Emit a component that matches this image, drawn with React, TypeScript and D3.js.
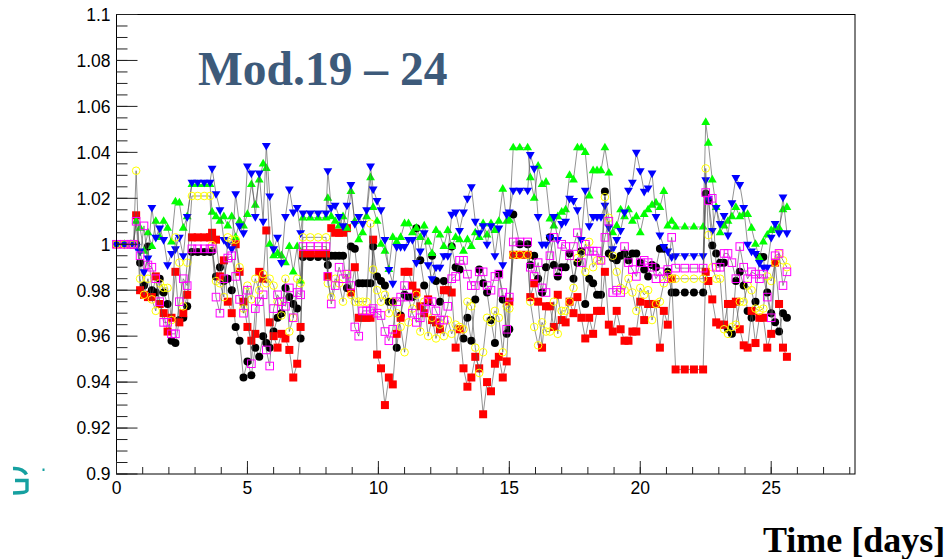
import React from 'react';
import * as d3 from 'd3';

const W = 946;
const H = 559;

// Measurement times (days)
const days = [
  0, 0.3, 0.55, 0.65,
  0.75,
  0.9, 1.05, 1.2, 1.35, 1.5, 1.65, 1.8, 1.95, 2.1, 2.25, 2.4, 2.55, 2.7,
  2.88, 3.1, 3.35, 3.57,
  3.65, 3.8, 3.95, 4.1, 4.25, 4.4, 4.55, 4.7, 4.85, 5.0, 5.15, 5.3, 5.45, 5.6, 5.72, 5.85, 6.0, 6.15, 6.3, 6.45, 6.6, 6.75, 6.9, 7.03,
  7.12, 7.4, 7.7, 8.0,
  8.07, 8.2, 8.35, 8.5, 8.65, 8.8, 8.95, 9.1, 9.25, 9.4, 9.55, 9.7, 9.8, 9.95, 10.1, 10.25, 10.4, 10.55, 10.7, 10.85, 11.0, 11.15, 11.3, 11.45, 11.6, 11.75, 11.9, 12.05, 12.2, 12.35, 12.5, 12.65, 12.8, 12.95, 13.1, 13.25, 13.4, 13.55, 13.7, 13.85, 14.0, 14.15, 14.3, 14.45, 14.6, 14.75, 14.9,
  15.0, 15.15, 15.4, 15.7,
  15.8, 15.95, 16.1, 16.25, 16.4, 16.55, 16.7, 16.85, 17.0, 17.15, 17.3, 17.45, 17.6, 17.75, 17.9, 18.05, 18.2, 18.35, 18.5, 18.65, 18.8, 18.95, 19.1, 19.25, 19.4, 19.55, 19.7, 19.85, 20.0, 20.15, 20.3, 20.45, 20.6, 20.75, 20.9, 21.05, 21.2,
  21.35, 21.7, 22.05, 22.4,
  22.5, 22.6, 22.75, 22.9, 23.05, 23.2, 23.35, 23.5, 23.65, 23.8, 23.95, 24.1, 24.25, 24.4, 24.55, 24.7, 24.85, 25.0, 25.15, 25.3, 25.45, 25.6,
];

// Module 19
const mod19 = [
  1, 1, 1, 1,
  1.0,
  0.992, 0.982, 0.999, 0.980, 0.979, 0.985, 0.979, 0.974, 0.958, 0.957, 0.967, 0.968, 0.973,
  0.9966, 0.9966, 0.9966, 0.9966,
  0.997, 0.986, 0.990, 0.984, 0.985, 0.980, 0.964, 0.958, 0.942, 0.949, 0.943, 0.955, 0.951, 0.960, 0.957, 0.955, 0.962, 0.968, 0.970, 0.981, 0.977, 0.974, 0.972, 0.959,
  0.9945, 0.9945, 0.9945, 0.9945,
  0.991, 0.995, 0.995, 0.995, 0.995, 0.981, 0.999, 0.998, 0.983, 0.983, 0.983, 0.983, 0.999, 0.986, 0.984, 0.982, 0.975, 0.975, 0.955, 0.969, 0.978, 0.977, 0.977, 1.007, 0.993, 0.982, 0.975, 0.995, 0.984, 0.975, 0.984, 0.980, 0.999, 0.990, 0.989, 0.959, 0.968, 0.958, 0.976, 0.989, 0.983, 0.979, 0.967, 0.957, 0.987, 0.976, 0.961,
  0.963, 1.013, 1.0, 1.0,
  0.991, 0.995, 0.985, 0.979, 0.990, 1.003, 0.991, 0.986, 0.990, 0.990, 0.996, 0.985, 0.992, 0.997, 0.974, 0.985, 0.983, 0.978, 0.978, 1.023, 0.996, 0.994, 0.993, 0.995, 0.996, 0.993, 0.996, 0.996, 0.992, 0.989, 0.986, 0.991, 0.990, 0.998, 0.998, 0.988, 0.979,
  0.979, 0.979, 0.979, 0.979,
  1.022, 1.019, 0.9995, 0.996, 0.992, 0.992, 0.963, 0.961, 0.984, 0.988, 0.982, 0.971, 0.968, 0.975, 0.9945, 0.9945, 0.979, 0.970, 0.966, 0.962, 0.970, 0.968,
];

// Module 20
const mod20 = [
  1, 1, 1, 1,
  1.0126,
  0.980, 0.978, 0.977, 0.977, 0.986, 0.974, 0.970, 0.962, 0.968, 0.988, 0.966, 0.970, 0.978,
  1.003, 1.003, 1.003, 1.003,
  1.005, 1.002, 0.986, 0.993, 0.975, 0.970, 1.000, 0.988, 0.975, 0.964, 0.958, 0.961, 0.988, 0.985, 1.006, 0.966, 0.960, 0.955, 0.961, 0.959, 0.954, 0.942, 0.948, 0.964,
  0.996, 0.996, 0.996, 0.996,
  0.986, 1.007, 1.005, 1.005, 1.005, 1.007, 0.979, 0.990, 0.968, 0.968, 0.968, 0.968, 1.002, 0.952, 0.946, 0.930, 0.942, 0.939, 0.961, 0.968, 0.988, 0.988, 0.982, 0.979, 0.973, 0.970, 0.976, 0.967, 0.966, 0.963, 0.980, 0.980, 0.979, 0.955, 0.963, 0.946, 0.938, 0.942, 0.951, 0.946, 0.926, 0.940, 0.936, 0.948, 0.951, 0.942, 0.949,
  0.975, 0.9954, 0.9954, 0.9954,
  0.977, 0.983, 0.975, 0.955, 0.973, 0.973, 0.964, 0.978, 0.967, 0.966, 0.975, 0.970, 0.977, 0.968, 0.959, 0.968, 0.961, 0.971, 0.971, 0.988, 0.965, 0.962, 0.971, 0.963, 0.958, 0.958, 0.962, 0.962, 0.975, 0.967, 0.974, 0.974, 0.974, 0.955, 0.971, 0.965, 0.985,
  0.9455, 0.9455, 0.9455, 0.9455,
  0.988, 0.984, 0.976, 0.966, 0.965, 0.965, 0.974, 0.974, 0.975, 0.963, 0.956, 0.955, 0.971, 0.957, 0.968, 0.968, 0.955, 0.961, 0.992, 0.974, 0.955, 0.951,
];

// Module 21
const mod21 = [
  1, 1, 1, 1,
  1.010,
  1.007, 0.997, 1.005, 0.999, 1.010, 1.003, 1.010, 1.007, 1.001, 1.0185, 1.018, 1.007, 1.012,
  1.026, 1.026, 1.026, 1.026,
  1.014, 1.012, 1.010, 1.012, 1.008, 1.012, 1.003, 1.010, 1.008, 1.013, 1.026, 1.017, 1.028, 1.035, 1.033, 1.000, 0.995, 0.996, 0.995, 0.992, 0.999, 0.988, 0.999, 0.984,
  1.0115, 1.0115, 1.0115, 1.0115,
  1.020, 1.012, 1.010, 1.008, 1.012, 1.007, 1.023, 1.010, 1.002, 1.005, 1.012, 1.029, 1.016, 1.010, 1.000, 0.997, 0.989, 1.003, 1.001, 1.003, 1.009, 1.009, 1.005, 1.007, 1.003, 1.008, 1.001, 0.996, 1.006, 1.004, 0.999, 1.006, 0.999, 1.003, 1.002, 0.997, 1.002, 0.999, 1.005, 1.003, 1.009, 1.004, 1.009, 1.006, 1.010, 1.024, 1.010,
  1.0105, 1.042, 1.042, 1.042,
  1.029, 1.020, 1.034, 1.026, 1.027, 1.011, 1.008, 1.012, 1.014, 1.015, 1.030, 1.028, 1.042, 1.042, 1.040, 1.021, 1.032, 1.032, 1.032, 1.042, 1.031, 1.005, 1.008, 1.015, 1.012, 1.015, 1.010, 1.012, 1.005, 1.013, 1.015, 1.017, 1.018, 1.016, 1.023, 1.008, 1.010,
  1.0075, 1.0075, 1.0075, 1.0075,
  1.053, 1.044, 1.028, 1.016, 1.005, 1.008, 1.010, 1.012, 1.016, 1.012, 1.013, 1.013, 1.007, 1.000, 0.994, 1.001, 1.004, 1.006, 1.007, 1.007, 1.015, 1.016,
];

// Module 22
const mod22 = [
  1, 1, 1, 1,
  0.999,
  0.997, 0.988, 0.994, 1.016, 1.003, 1.007, 1.002, 0.991, 0.996, 0.998, 1.003, 0.995, 1.012,
  1.027, 1.027, 1.027, 1.027,
  1.033, 1.022, 1.015, 1.002, 1.000, 0.998, 1.022, 1.008, 1.005, 1.034, 1.031, 1.012, 1.031, 1.010, 1.043, 1.021, 0.998, 1.003, 0.992, 1.012, 1.024, 1.014, 1.016, 1.005,
  1.0136, 1.0136, 1.0136, 1.0136,
  1.032, 1.016, 1.017, 1.012, 1.008, 1.017, 1.026, 1.009, 1.012, 1.009, 1.015, 1.034, 1.024, 1.019, 1.015, 1.002, 0.989, 0.983, 0.999, 0.999, 0.999, 1.002, 1.002, 0.992, 0.997, 1.005, 0.991, 0.985, 0.990, 0.990, 0.995, 0.995, 1.013, 1.014, 1.006, 1.014, 1.020, 1.025, 1.010, 1.005, 1.008, 1.000, 1.008, 0.995, 1.007, 0.991, 1.013,
  1.014, 1.0235, 1.0235, 1.0235,
  1.039, 1.033, 1.012, 1.000, 1.000, 1.003, 1.012, 1.002, 1.009, 1.010, 1.020, 1.019, 1.015, 1.002, 1.0235, 1.008, 1.012, 1.012, 1.012, 1.017, 1.0075, 0.998, 1.002, 1.006, 1.014, 1.0235, 1.027, 1.040, 1.032, 1.023, 1.0245, 1.031, 1.012, 1.004, 0.999, 0.997, 0.9945,
  0.995, 0.995, 0.995, 0.995,
  1.028, 1.020, 1.006, 1.016, 1.009, 1.0125, 1.004, 1.018, 1.029, 1.026, 1.016, 1.000, 0.997, 0.996, 0.992, 0.990, 0.990, 1.003, 1.009, 1.005, 1.0205, 1.005,
];

// Module 23
const mod23 = [
  1, 1, 1, 1,
  1.032,
  0.985, 0.978, 0.985, 0.976, 0.971, 0.983, 0.981, 0.981, 0.967, 1.003, 0.992, 0.973, 0.992,
  1.021, 1.021, 1.021, 1.021,
  0.9996, 0.984, 0.983, 0.977, 1.003, 1.002, 1.002, 0.990, 0.972, 0.982, 0.976, 0.985, 0.980, 0.987, 0.983, 0.985, 0.982, 0.975, 0.969, 0.985, 0.962, 0.968, 0.985, 0.983,
  1.003, 1.003, 1.003, 1.003,
  0.983, 0.977, 0.985, 0.983, 0.975, 0.987, 0.978, 0.975, 0.975, 0.975, 0.975, 1.009, 0.989, 0.980, 0.975, 0.978, 0.970, 0.975, 0.970, 0.964, 0.953, 0.966, 0.972, 0.978, 0.962, 0.975, 0.960, 0.968, 0.959, 0.965, 0.960, 0.967, 0.961, 0.965, 0.964, 0.963, 0.975, 0.973, 0.955, 0.944, 0.953, 0.968, 0.966, 0.971, 0.968, 0.953, 0.973,
  0.972, 0.9954, 0.9954, 0.9954,
  0.975, 0.964, 0.956, 0.966, 0.962, 0.962, 0.975, 0.961, 0.971, 0.971, 0.975, 0.981, 0.994, 0.996, 0.988, 1.001, 0.990, 0.993, 0.993, 1.0205, 1.0115, 0.995, 0.988, 0.981, 0.980, 0.985, 0.979, 0.971, 0.981, 0.978, 0.980, 0.967, 0.974, 0.975, 0.983, 0.987, 0.985,
  0.985, 0.985, 0.985, 0.985,
  1.033, 1.004, 0.990, 0.985, 0.985, 0.963, 0.961, 0.964, 0.965, 0.975, 0.975, 0.982, 0.980, 0.972, 0.971, 0.972, 0.986, 0.984, 0.992, 0.996, 0.993, 0.990,
];

// Module 24
const mod24 = [
  1, 1, 1, 1,
  1.010,
  0.995, 1.008, 0.991, 0.990, 0.985, 0.975, 0.966, 0.966, 0.961, 0.961, 0.975, 0.985, 0.982,
  0.998, 0.998, 0.998, 0.998,
  0.998, 0.977, 0.970, 0.985, 0.994, 0.995, 0.986, 0.976, 0.970, 0.980, 0.948, 0.972, 0.975, 0.978, 0.954, 0.947, 0.972, 0.978, 0.975, 0.973, 0.981, 0.968, 0.979, 0.978,
  0.999, 0.999, 0.999, 0.999,
  0.986, 0.974, 0.982, 0.990, 0.985, 0.987, 0.982, 0.964, 0.960, 0.971, 0.971, 0.971, 0.972, 0.970, 0.969, 0.962, 0.958, 0.963, 0.975, 0.977, 0.982, 0.977, 0.970, 0.966, 0.968, 0.972, 0.975, 0.975, 0.971, 0.967, 0.967, 0.973, 0.985, 0.986, 0.993, 0.993, 0.987, 0.982, 0.982, 0.988, 0.988, 0.982, 0.980, 0.986, 0.987, 0.979, 0.963,
  0.977, 1.001, 1.001, 1.001,
  0.990, 0.986, 0.992, 0.981, 0.979, 0.995, 1.003, 0.988, 1.000, 0.999, 0.995, 0.999, 1.005, 0.992, 1.000, 0.997, 0.997, 0.997, 0.993, 1.003, 1.010, 0.979, 0.980, 0.979, 0.999, 0.992, 0.989, 0.986, 0.992, 0.993, 0.992, 0.990, 0.985, 0.988, 0.985, 0.989, 1.003,
  0.9896, 0.9896, 0.9896, 0.9896,
  1.0225, 1.019, 1.020, 0.990, 0.990, 0.996, 0.996, 0.992, 0.985, 0.999, 0.990, 0.985, 0.988, 0.987, 0.985, 0.987, 0.977, 0.968, 0.995, 0.996, 0.982, 0.988,
];

const yMajorTicks = [0.9, 0.92, 0.94, 0.96, 0.98, 1.0, 1.02, 1.04, 1.06, 1.08, 1.1];
const yTickLabels = ['0.9', '0.92', '0.94', '0.96', '0.98', '1', '1.02', '1.04', '1.06', '1.08', '1.1'];
const xMajorTicks = [0, 5, 10, 15, 20, 25];
const xTickLabels = ['0', '5', '10', '15', '20', '25'];

type Marker = 'circle' | 'square' | 'triUp' | 'triDown' | 'openCircle' | 'openSquare';

const series: { values: number[]; marker: Marker; color: string }[] = [
  { values: mod19, marker: 'circle', color: '#000000' },
  { values: mod20, marker: 'square', color: '#ff0000' },
  { values: mod21, marker: 'triUp', color: '#00ff00' },
  { values: mod22, marker: 'triDown', color: '#0000ff' },
  { values: mod23, marker: 'openCircle', color: '#ffff00' },
  { values: mod24, marker: 'openSquare', color: '#ff00ff' },
];

const FRAME = { left: 116.5, right: 855, top: 14.5, bottom: 474 };

export default function App() {
  const x = d3.scaleLinear().domain([0, 28.2]).range([FRAME.left, FRAME.right]);
  const y = d3.scaleLinear().domain([0.9, 1.1]).range([FRAME.bottom, FRAME.top]);

  const xMinor = d3.range(0, 29, 1);
  const yMinor = d3.range(0, 41).map((i) => 0.9 + i * 0.005);

  const tri = d3.symbol().type(d3.symbolTriangle).size(34)() as string;

  const drawMarker = (m: Marker, color: string, cx: number, cy: number, key: number) => {
    switch (m) {
      case 'circle':
        return <circle key={key} cx={cx} cy={cy} r={4} fill={color} />;
      case 'square':
        return <rect key={key} x={cx - 4} y={cy - 4} width={8} height={8} fill={color} />;
      case 'triUp':
        return <path key={key} d={tri} transform={`translate(${cx},${cy})`} fill={color} />;
      case 'triDown':
        return <path key={key} d={tri} transform={`translate(${cx},${cy}) rotate(180)`} fill={color} />;
      case 'openCircle':
        return <circle key={key} cx={cx} cy={cy} r={3.8} fill="none" stroke={color} strokeWidth={1} />;
      case 'openSquare':
        return (
          <rect key={key} x={cx - 3.8} y={cy - 3.8} width={7.6} height={7.6} fill="none" stroke={color} strokeWidth={1} />
        );
    }
  };

  const fontSans = 'Liberation Sans, Arial, Helvetica, sans-serif';
  const fontSerif = 'Liberation Serif, Times New Roman, serif';

  return (
    <svg
      width={W}
      height={H}
      viewBox={`0 0 ${W} ${H}`}
      style={{ position: 'absolute', left: 0, top: 0, background: '#ffffff' }}
    >
      <rect x={0} y={0} width={W} height={H} fill="#ffffff" />

      {/* graphs */}
      {series.map((s, si) => {
        const n = Math.min(days.length, s.values.length);
        const pts: [number, number][] = d3.range(n).map((i) => [days[i], s.values[i]]);
        const line = d3
          .line<[number, number]>()
          .x((d) => x(d[0]))
          .y((d) => y(d[1]));
        return (
          <g key={si}>
            <path d={line(pts) || ''} fill="none" stroke="#555" strokeWidth={0.8} strokeOpacity={0.8} />
            {pts.map((p, i) => drawMarker(s.marker, s.color, x(p[0]), y(p[1]), i))}
          </g>
        );
      })}

      {/* frame */}
      <rect
        x={FRAME.left}
        y={FRAME.top}
        width={FRAME.right - FRAME.left}
        height={FRAME.bottom - FRAME.top}
        fill="none"
        stroke="#000"
        strokeWidth={1}
      />

      {/* y axis ticks */}
      {yMinor.map((v, i) => (
        <line key={`ym${i}`} x1={FRAME.left} x2={FRAME.left + 11} y1={y(v)} y2={y(v)} stroke="#222" strokeWidth={1} />
      ))}
      {yMajorTicks.map((v, i) => (
        <line key={`yM${i}`} x1={FRAME.left} x2={FRAME.left + 21} y1={y(v)} y2={y(v)} stroke="#222" strokeWidth={1} />
      ))}
      {yMajorTicks.map((v, i) => (
        <text
          key={`yl${i}`}
          x={FRAME.left - 6}
          y={y(v)}
          dy="0.36em"
          textAnchor="end"
          fontFamily={fontSans}
          fontSize={17.5}
          fill="#000"
        >
          {yTickLabels[i]}
        </text>
      ))}

      {/* x axis ticks */}
      {xMinor.map((v, i) => (
        <line key={`xm${i}`} x1={x(v)} x2={x(v)} y1={FRAME.bottom} y2={FRAME.bottom - 7} stroke="#222" strokeWidth={1} />
      ))}
      {xMajorTicks.map((v, i) => (
        <line key={`xM${i}`} x1={x(v)} x2={x(v)} y1={FRAME.bottom} y2={FRAME.bottom - 13} stroke="#222" strokeWidth={1} />
      ))}
      {xMajorTicks.map((v, i) => (
        <text
          key={`xl${i}`}
          x={x(v)}
          y={FRAME.bottom + 20}
          textAnchor="middle"
          fontFamily={fontSans}
          fontSize={17.5}
          fill="#000"
        >
          {xTickLabels[i]}
        </text>
      ))}

      {/* labels */}
      <text x={198} y={85} fontFamily={fontSerif} fontWeight="bold" fontSize={47.5} fill="#3d5a7a">
        Mod.19 – 24
      </text>
      <text x={763} y={552} fontFamily={fontSerif} fontWeight="bold" fontSize={36} fill="#000">
        Time [days]
      </text>

      {/* logo fragment at the left edge */}
      <g fill="none" stroke="#16a0a0" strokeWidth={3.4}>
        <path d="M13,468.5 Q23,468 26.5,474.5" />
        <path d="M15,480.5 L27,480.5 L27,490.5 Q26,493 13,493" />
      </g>
      <rect x={42.5} y={468.5} width={2} height={2.5} fill="#16a0a0" />
    </svg>
  );
}
